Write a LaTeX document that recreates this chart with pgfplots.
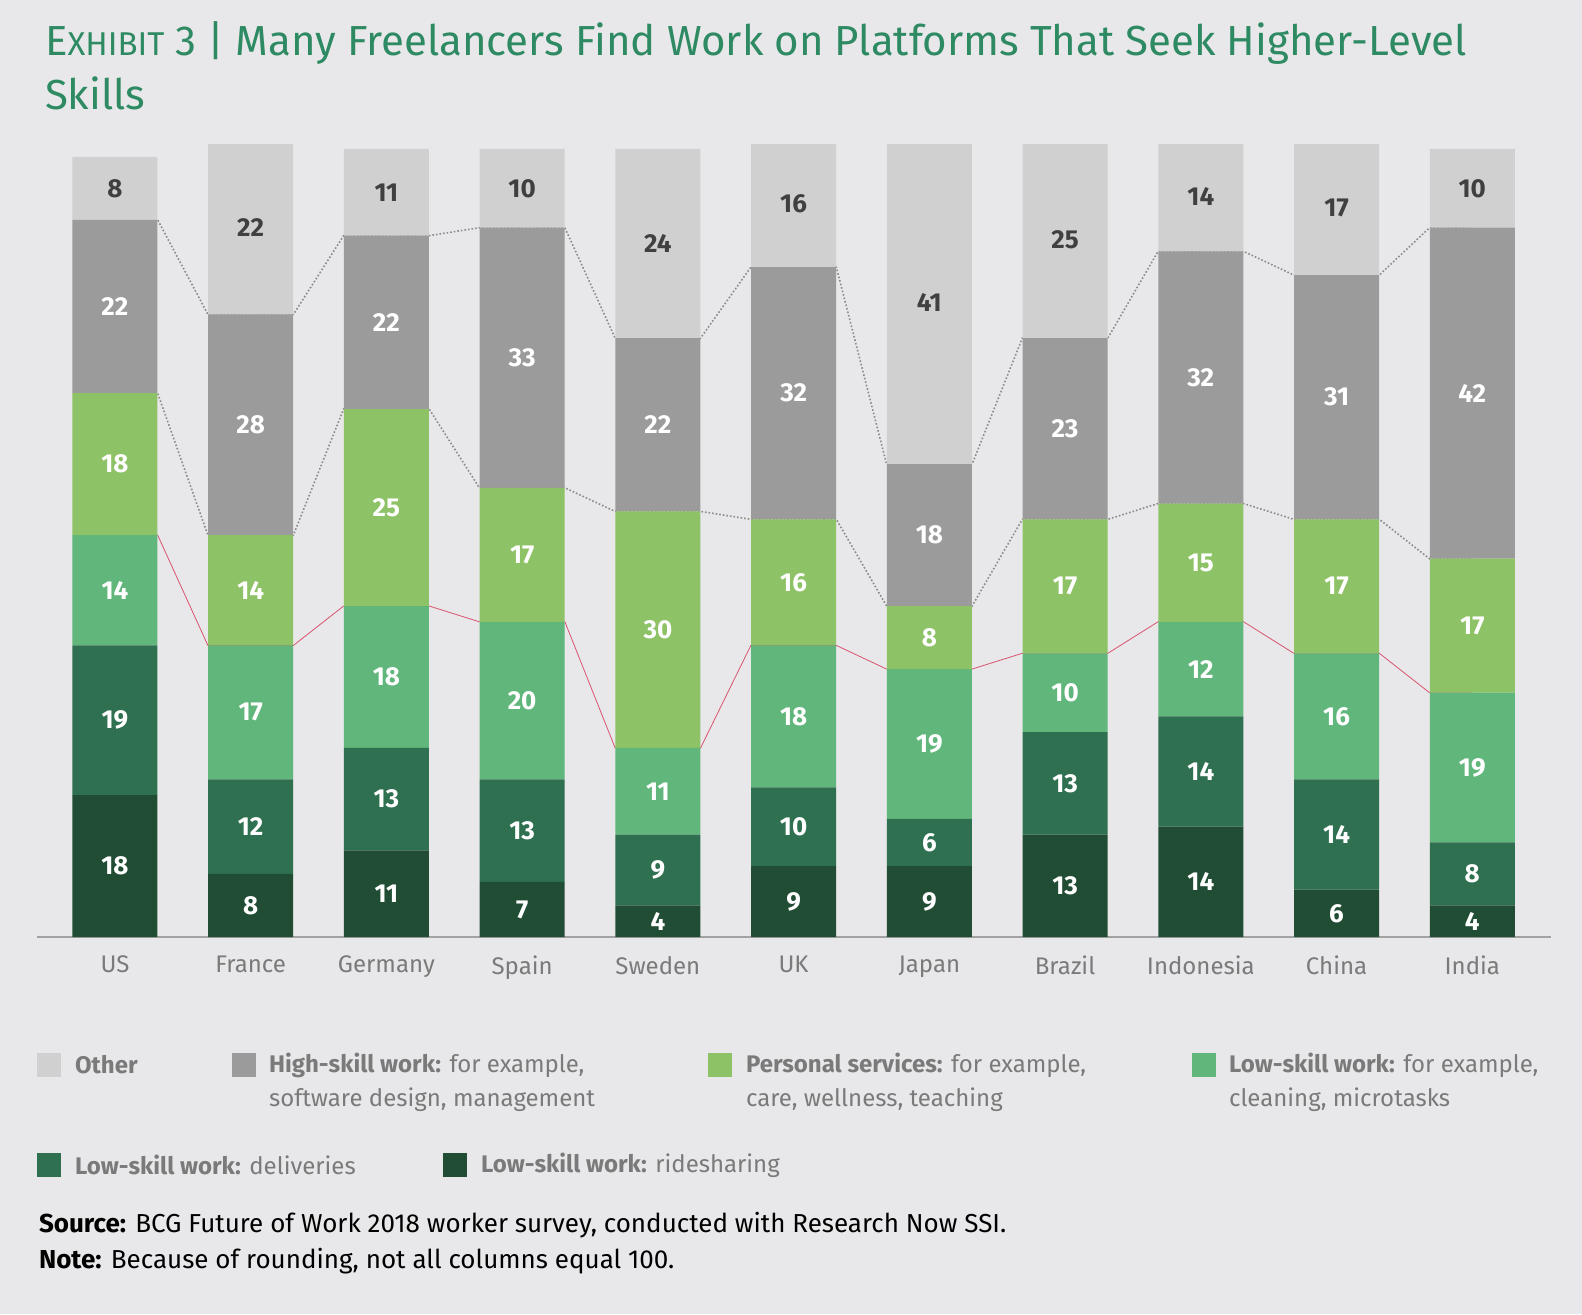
\documentclass[border=0pt]{standalone}
\usepackage{pgfplots}
\pgfplotsset{compat=1.18}
\usepackage{fontspec}
\setmainfont{Fira Sans}
\definecolor{bg}{HTML}{E8E8EA}
\definecolor{cOther}{HTML}{D0D0D0}
\definecolor{cHigh}{HTML}{9B9B9B}
\definecolor{cPers}{HTML}{8EC266}
\definecolor{cLow}{HTML}{60B67B}
\definecolor{cDel}{HTML}{2F7050}
\definecolor{cRide}{HTML}{214D34}
\definecolor{ttl}{HTML}{2E8A62}
\definecolor{lbl}{HTML}{7A7A7A}
\definecolor{redl}{HTML}{D9536F}
\pgfplotsset{base/.style={
  scale only axis, width=757pt, height=396pt,
  at={(18.5pt,188.5pt)}, anchor=south west,
  xmin=-0.574, xmax=10.58, ymin=0, ymax=100.5}}
\begin{document}
\begin{tikzpicture}
\fill[bg] (0,0) rectangle (791pt,657pt);
\useasboundingbox (0,0) rectangle (791pt,657pt);
% connecting lines
\begin{axis}[base, hide axis]
\addplot[draw=cHigh!90!black, densely dotted, thick] coordinates {(0,91)(0.315,91)(0.685,79)(1.315,79)(1.685,89)(2.315,89)(2.685,90)(3.315,90)(3.685,76)(4.315,76)(4.685,85)(5.315,85)(5.685,60)(6.315,60)(6.685,76)(7.315,76)(7.685,87)(8.315,87)(8.685,84)(9.315,84)(9.685,90)(10,90)};
\addplot[draw=cHigh!90!black, densely dotted, thick] coordinates {(0,69)(0.315,69)(0.685,51)(1.315,51)(1.685,67)(2.315,67)(2.685,57)(3.315,57)(3.685,54)(4.315,54)(4.685,53)(5.315,53)(5.685,42)(6.315,42)(6.685,53)(7.315,53)(7.685,55)(8.315,55)(8.685,53)(9.315,53)(9.685,48)(10,48)};
\addplot[draw=redl, thin] coordinates {(0,51)(0.315,51)(0.685,37)(1.315,37)(1.685,42)(2.315,42)(2.685,40)(3.315,40)(3.685,24)(4.315,24)(4.685,37)(5.315,37)(5.685,34)(6.315,34)(6.685,36)(7.315,36)(7.685,40)(8.315,40)(8.685,36)(9.315,36)(9.685,31)(10,31)};
\end{axis}
% bars
\begin{axis}[base, ybar stacked, bar width=42.5pt,
  axis x line=bottom, hide y axis, axis line style={draw=lbl!70, line width=0.8pt, -},
  xtick={0,...,10}, major tick length=0pt,
  xticklabels={US,France,Germany,Spain,Sweden,UK,Japan,Brazil,Indonesia,China,India},
  xticklabel style={font=\fontsize{12}{14}\selectfont, text=lbl, yshift=-6pt},
  every axis plot/.append style={draw=none}]
\addplot[fill=cRide] coordinates {(0,18)(1,8)(2,11)(3,7)(4,4)(5,9)(6,9)(7,13)(8,14)(9,6)(10,4)};
\addplot[fill=cDel] coordinates {(0,19)(1,12)(2,13)(3,13)(4,9)(5,10)(6,6)(7,13)(8,14)(9,14)(10,8)};
\addplot[fill=cLow] coordinates {(0,14)(1,17)(2,18)(3,20)(4,11)(5,18)(6,19)(7,10)(8,12)(9,16)(10,19)};
\addplot[fill=cPers] coordinates {(0,18)(1,14)(2,25)(3,17)(4,30)(5,16)(6,8)(7,17)(8,15)(9,17)(10,17)};
\addplot[fill=cHigh] coordinates {(0,22)(1,28)(2,22)(3,33)(4,22)(5,32)(6,18)(7,23)(8,32)(9,31)(10,42)};
\addplot[fill=cOther] coordinates {(0,8)(1,22)(2,11)(3,10)(4,24)(5,16)(6,41)(7,25)(8,14)(9,17)(10,10)};
\end{axis}
% value labels
\begin{axis}[base, hide axis, clip=false, nodes near coords, point meta=explicit symbolic,
  every node near coord/.style={anchor=center, font=\bfseries\fontsize{13}{15}\selectfont, text=white}]
\addplot[draw=none, mark=none] coordinates {(0,9)[18](1,4)[8](2,5.5)[11](3,3.5)[7](4,2)[4](5,4.5)[9](6,4.5)[9](7,6.5)[13](8,7)[14](9,3)[6](10,2)[4]};
\addplot[draw=none, mark=none] coordinates {(0,27.5)[19](1,14)[12](2,17.5)[13](3,13.5)[13](4,8.5)[9](5,14)[10](6,12)[6](7,19.5)[13](8,21)[14](9,13)[14](10,8)[8]};
\addplot[draw=none, mark=none] coordinates {(0,44)[14](1,28.5)[17](2,33)[18](3,30)[20](4,18.5)[11](5,28)[18](6,24.5)[19](7,31)[10](8,34)[12](9,28)[16](10,21.5)[19]};
\addplot[draw=none, mark=none] coordinates {(0,60)[18](1,44)[14](2,54.5)[25](3,48.5)[17](4,39)[30](5,45)[16](6,38)[8](7,44.5)[17](8,47.5)[15](9,44.5)[17](10,39.5)[17]};
\addplot[draw=none, mark=none] coordinates {(0,80)[22](1,65)[28](2,78)[22](3,73.5)[33](4,65)[22](5,69)[32](6,51)[18](7,64.5)[23](8,71)[32](9,68.5)[31](10,69)[42]};
\addplot[draw=none, mark=none, every node near coord/.append style={text=black!75}] coordinates {(0,95)[8](1,90)[22](2,94.5)[11](3,95)[10](4,88)[24](5,93)[16](6,80.5)[41](7,88.5)[25](8,94)[14](9,92.5)[17](10,95)[10]};
\end{axis}
% title
\node[anchor=base west, text=ttl, font=\fontsize{21}{25}\selectfont] at (19pt,629pt) {{\fontsize{21}{25}\selectfont E}{\fontsize{16.5}{20}\selectfont XHIBIT} 3 | Many Freelancers Find Work on Platforms That Seek Higher-Level};
\node[anchor=base west, text=ttl, font=\fontsize{21}{25}\selectfont] at (19pt,602pt) {Skills};
% legend
\begin{scope}[font=\fontsize{12}{14}\selectfont, text=lbl]
\fill[cOther] (18.5pt,118.5pt) rectangle +(12pt,12pt);
\node[anchor=west] at (34pt,124.5pt) {\bfseries Other};
\fill[cHigh] (116pt,118.5pt) rectangle +(12pt,12pt);
\node[anchor=west] at (131pt,124.5pt) {\textbf{High-skill work:} for example,};
\node[anchor=west] at (131pt,107pt) {software design, management};
\fill[cPers] (354pt,118.5pt) rectangle +(12pt,12pt);
\node[anchor=west] at (369.5pt,124.5pt) {\textbf{Personal services:} for example,};
\node[anchor=west] at (369.5pt,107pt) {care, wellness, teaching};
\fill[cLow] (596pt,118.5pt) rectangle +(12pt,12pt);
\node[anchor=west] at (611pt,124.5pt) {\textbf{Low-skill work:} for example,};
\node[anchor=west] at (611pt,107pt) {cleaning, microtasks};
\fill[cDel] (18.5pt,68.5pt) rectangle +(12pt,12pt);
\node[anchor=west] at (34pt,74.5pt) {\textbf{Low-skill work:} deliveries};
\fill[cRide] (221.5pt,68.5pt) rectangle +(12pt,12pt);
\node[anchor=west] at (237pt,74.5pt) {\textbf{Low-skill work:} ridesharing};
\end{scope}
\node[anchor=base west, font=\fontsize{13}{15}\selectfont] at (16pt,41pt) {\textbf{Source:} BCG Future of Work 2018 worker survey, conducted with Research Now SSI.};
\node[anchor=base west, font=\fontsize{13}{15}\selectfont] at (16pt,23pt) {\textbf{Note:} Because of rounding, not all columns equal 100.};
\end{tikzpicture}
\end{document}
